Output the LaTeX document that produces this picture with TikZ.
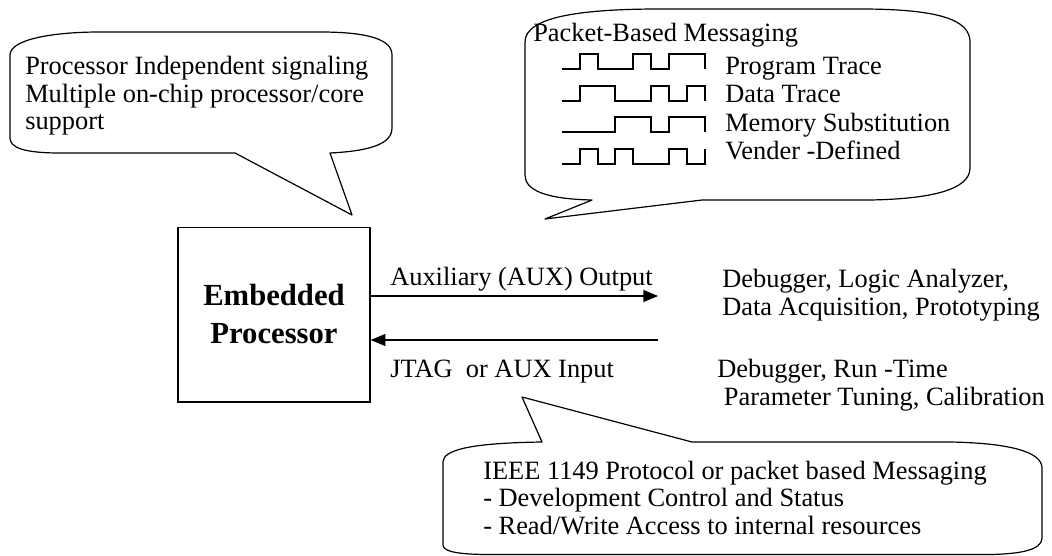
\documentclass[tikz,border=0pt]{standalone}
\usepackage{fontspec}
\setmainfont{Liberation Serif}
\usetikzlibrary{arrows.meta}
\tikzset{
  >={Triangle[length=11pt,width=9pt]},
  txt/.style={inner sep=0pt,anchor=base west,align=left,
    font=\fontsize{19.8}{20.8}\selectfont},
  procbox/.style={draw,line width=1pt,inner sep=0pt,align=center,
    minimum width=144pt,minimum height=131pt,
    font=\fontsize{23}{28.5}\selectfont\bfseries},
  callout/.style={draw,line width=0.9pt,line join=round},
  wave/.style={draw,line width=0.9pt},
  sig/.style={draw,line width=0.8pt,->}
}

\begin{document}
\begin{tikzpicture}[x=0.75pt,y=-0.75pt]
\useasboundingbox (0,0) rectangle (1052,556);

\path[callout] (10,138) -- (10,55) .. controls (10,40) and (50,32) .. (100,32)
  -- (320,32) .. controls (370,32) and (392,40) .. (392,55) -- (392,128)
  .. controls (392,144) and (370,151) .. (330,153) -- (352,215) -- (235,153)
  -- (60,153) .. controls (25,153) and (10,148) .. (10,138) -- cycle;
\node[txt] (procsig) at (25,130) {Processor Independent signaling\\
  Multiple on-chip processor/core\\support};

\path[callout] (525,175) -- (525,42) .. controls (525,17) and (580,9) .. (660,9)
  -- (860,9) .. controls (940,9) and (970,20) .. (970,42) -- (970,168)
  .. controls (970,190) and (930,199) .. (870,200) -- (702,200) -- (545,219)
  -- (592,200) .. controls (545,199) and (525,190) .. (525,175) -- cycle;
\node[txt] (packet) at (533,42) {Packet-Based Messaging};
\path[wave] (562,69) -- (580,69) -- (580,54) -- (598,54) -- (598,69) -- (633,69)
  -- (633,54) -- (651,54) -- (651,69) -- (669,69) -- (669,54) -- (705,54) -- (705,69);
\path[wave] (562,101) -- (580,101) -- (580,86) -- (615,86) -- (615,101) -- (651,101)
  -- (651,86) -- (669,86) -- (669,101) -- (687,101) -- (687,86) -- (705,86) -- (705,101);
\path[wave] (562,132) -- (615,132) -- (615,117) -- (651,117) -- (651,132) -- (669,132)
  -- (669,117) -- (705,117) -- (705,132);
\path[wave] (562,164) -- (580,164) -- (580,149) -- (598,149) -- (598,164) -- (615,164)
  -- (615,149) -- (633,149) -- (633,164) -- (669,164) -- (669,149) -- (687,149)
  -- (687,164) -- (705,164) -- (705,149);
\node[txt] (progtrace) at (725,75) {Program Trace};
\node[txt] (datatrace) at (725,103) {Data Trace};
\node[txt] (memsubst) at (725,132) {Memory Substitution};
\node[txt] (vendor) at (725,160) {Vender -Defined};

\node[procbox] (cpu) at (274,314.5) {Embedded\\Processor};
\coordinate (auxout) at (658,296);
\coordinate (auxin) at (658,340);
\path[sig] (cpu.east |- auxout) -- (auxout);
\path[sig] (auxin) -- (cpu.east |- auxin);
\node[txt] (outlbl) at (390,285) {Auxiliary (AUX) Output};
\node[txt] (inlbl) at (390,377) {JTAG\ \ or AUX Input};
\node[txt,font=\fontsize{19.8}{21}\selectfont] (tools) at (722,315)
  {Debugger, Logic Analyzer,\\Data Acquisition, Prototyping};
\node[txt,font=\fontsize{19.8}{21}\selectfont] (tuning) at (717,405)
  {Debugger, Run -Time\\\hspace*{0.25em}Parameter Tuning, Calibration};

\path[callout] (443,545) -- (443,462) .. controls (443,450) and (470,443) .. (542,442)
  -- (522,397) -- (692,442) -- (950,442) .. controls (1010,443) and (1042,452) .. (1042,468)
  -- (1042,538) .. controls (1042,550) and (1020,554) .. (990,554.5) -- (490,554.5)
  .. controls (460,554.5) and (443,552) .. (443,545) -- cycle;
\node[txt,font=\fontsize{19.8}{20.3}\selectfont] (ieee) at (483,534)
  {IEEE 1149 Protocol or packet based Messaging\\
  - Development Control and Status\\
  - Read/Write Access to internal resources};
\end{tikzpicture}
\end{document}
